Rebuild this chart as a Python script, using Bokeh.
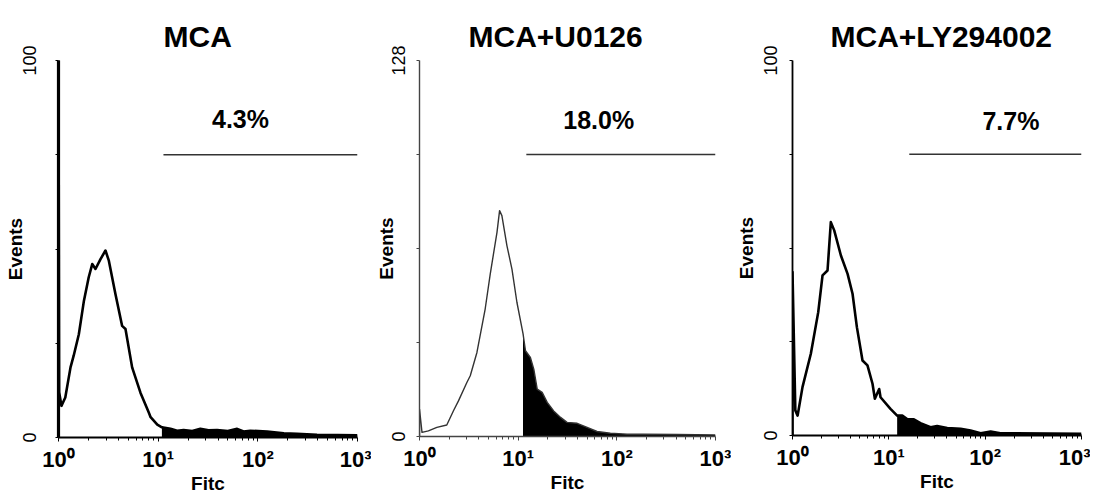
import numpy as np
from bokeh.plotting import figure
from bokeh.layouts import row
from bokeh.models import FixedTicker, Label
from bokeh.embed import file_html
from bokeh.resources import INLINE

# ---------------- data ----------------
titles = ["MCA", "MCA+U0126", "MCA+LY294002"]
percent_labels = ["4.3%", "18.0%", "7.7%"]
y_max = [100, 128, 100]
gate_start = [11.3, 12.1, 16.3]
gate_end = [1000, 1000, 1000]
gate_level = [75, 96, 75]
fill_start = [10.9, 11.2, 12.2]
x_tick_values = [1, 10, 100, 1000]
x_tick_labels = ["10⁰", "10¹", "10²", "10³"]

mca_fitc = [1.0, 1.0, 1.015, 1.07, 1.17, 1.32, 1.42, 1.60, 1.80, 2.01, 2.18, 2.35,
            2.64, 2.96, 3.2, 3.73, 4.35, 4.7, 5.48, 6.64, 8.05, 8.4, 9.8, 10.9,
            13.3, 15.5, 18.0, 22.0, 26.5, 32.0, 39.0, 50.0, 62.0, 72.0, 84.0,
            124.0, 182.0, 247.0, 392.0, 1000.0]
mca_events = [0, 100, 12.0, 8.4, 10.6, 18.6, 21.7, 27.4, 36.3, 42.5, 46.0, 44.7,
              47.3, 49.6, 46.9, 38.0, 29.6, 28.8, 18.6, 11.9, 6.6, 5.4, 3.4, 2.7,
              2.3, 1.8, 2.0, 1.7, 2.3, 1.9, 2.0, 1.7, 2.3, 1.6, 1.8,
              1.6, 1.1, 1.0, 0.7, 0.6]

u0126_fitc = [1.0, 1.0, 1.06, 1.23, 1.5, 1.89, 2.21, 2.49, 3.02, 3.27, 3.82, 4.63,
              5.21, 6.1, 6.48, 6.84, 7.69, 8.65, 9.71, 11.2, 11.86, 13.3, 14.4,
              15.6, 17.5, 19.7, 22.9, 26.9, 31.3, 39.6, 50.0, 63.0, 86.0, 127.0,
              186.0, 408.0, 1000.0]
u0126_events = [0, 9.3, 1.4, 1.9, 3.1, 3.9, 8.75, 12.2, 18.4, 20.7, 28.6, 43.4,
                55.3, 69.5, 76.9, 75.2, 65.0, 57.0, 45.7, 35.0, 29.2, 26.9, 22.9,
                16.1, 15.0, 11.6, 8.7, 6.5, 4.8, 4.5, 3.1, 1.7, 1.1, 0.8,
                0.8, 0.7, 0.55]

ly_fitc = [1.0, 1.0, 1.07, 1.13, 1.27, 1.55, 1.85, 2.05, 2.31, 2.5, 2.71, 3.18,
           3.73, 4.2, 4.66, 5.33, 6.0, 6.77, 7.16, 7.94, 8.2, 10.4, 12.2, 13.8,
           15.5, 18.2, 21.3, 27.1, 31.7, 40.4, 55.6, 70.6, 89.8, 114.0, 144.0,
           1000.0]
ly_events = [0, 43.6, 6.7, 5.3, 12.9, 21.8, 32.9, 42.7, 44.0, 56.9, 54.7, 48.0,
             43.1, 37.8, 28.9, 20.0, 18.7, 13.8, 9.8, 12.4, 10.2, 7.1, 5.3, 5.3,
             4.4, 4.3, 3.3, 2.2, 2.5, 2.0, 1.8, 1.3, 0.6, 1.07, 0.6,
             0.45]

series_fitc = [mca_fitc, u0126_fitc, ly_fitc]
series_events = [mca_events, u0126_events, ly_events]

# ---------------- styles / layout ----------------
FONT = "Liberation Sans"
H = 487
frame_w = [299, 296, 289]
frame_h = [377, 376, 375]
border_l = [58, 48, 61]
border_r = [14, 16, 9]
border_t = [60, 58, 60]
line_w = [2.6, 1.4, 2.6]
line_c = ["black", "#333333", "black"]
xaxis_w = [2.0, 1.4, 1.8]
yaxis_w = [3.2, 1.4, 1.8]
axis_c = ["black", "#444444", "black"]
title_offset = [105, 49, 38]
ylab_standoff = [20, 12, 13]
yaxlab_standoff = [-6, -8, 4]
# percentage label anchor positions (data coords)
pct_pos = [(67.0, 84.5), (65.5, 107.6), (185.0, 84.0)]

minor_x = [v * m for v in [1, 10, 100] for m in range(2, 10)]

figs = []
for i in range(3):
    p = figure(x_axis_type="log", x_range=(1, 1000), y_range=(0, y_max[i]),
               frame_width=frame_w[i], frame_height=frame_h[i],
               min_border_left=border_l[i], min_border_right=border_r[i],
               min_border_top=border_t[i],
               min_border_bottom=H - border_t[i] - frame_h[i],
               toolbar_location=None, output_backend="svg",
               background_fill_color="white", border_fill_color="white",
               title=titles[i])
    p.outline_line_color = None
    p.grid.visible = False
    p.title.align = "left"
    p.title.offset = title_offset[i]
    p.title.text_font = FONT
    p.title.text_font_style = "bold"
    p.title.text_font_size = "30px"
    p.title.text_color = "black"
    p.title.standoff = 16

    x = np.array(series_fitc[i], dtype=float)
    y = np.array(series_events[i], dtype=float)
    m = x >= fill_start[i]
    p.varea(x=x[m], y1=np.zeros(m.sum()), y2=y[m], fill_color="black")
    p.line(x, y, line_color=line_c[i], line_width=line_w[i], line_join="round")
    p.line([gate_start[i], gate_end[i]], [gate_level[i], gate_level[i]],
           line_color="#333333", line_width=1.4)

    # x axis
    xa = p.xaxis[0]
    xa.ticker = FixedTicker(ticks=x_tick_values, minor_ticks=minor_x)
    xa.major_label_overrides = {v: t for v, t in zip(x_tick_values, x_tick_labels)}
    xa.axis_label = "Fitc"
    xa.axis_label_text_font = FONT
    xa.axis_label_text_font_style = "bold"
    xa.axis_label_text_font_size = "19px"
    xa.axis_label_text_color = "black"
    xa.axis_label_standoff = -2
    xa.major_label_text_font = FONT
    xa.major_label_text_font_style = "bold"
    xa.major_label_text_font_size = "22px"
    xa.major_label_text_color = "black"
    xa.major_label_standoff = 5
    xa.major_tick_out = 4
    xa.major_tick_in = 0
    xa.minor_tick_out = 3
    xa.minor_tick_in = 0
    xa.axis_line_width = xaxis_w[i]
    xa.axis_line_color = axis_c[i]
    xa.major_tick_line_color = axis_c[i]
    xa.minor_tick_line_color = axis_c[i]

    # y axis
    ya = p.yaxis[0]
    ya.ticker = FixedTicker(ticks=[0, y_max[i]],
                            minor_ticks=[y_max[i] * k / 4 for k in (1, 2, 3)])
    ya.major_label_orientation = "parallel"
    ya.axis_label = "Events"
    ya.axis_label_text_font = FONT
    ya.axis_label_text_font_style = "bold"
    ya.axis_label_text_font_size = "19px"
    ya.axis_label_text_color = "black"
    ya.axis_label_standoff = yaxlab_standoff[i]
    ya.major_label_text_font = FONT
    ya.major_label_text_font_size = "18px"
    ya.major_label_text_color = "black"
    ya.major_label_standoff = ylab_standoff[i]
    ya.major_tick_out = 3
    ya.major_tick_in = 0
    ya.minor_tick_out = 3
    ya.minor_tick_in = 0
    ya.axis_line_width = yaxis_w[i]
    ya.axis_line_color = axis_c[i]
    ya.major_tick_line_color = axis_c[i]
    ya.minor_tick_line_color = axis_c[i]

    p.add_layout(Label(x=pct_pos[i][0], y=pct_pos[i][1], text=percent_labels[i],
                       text_font=FONT, text_font_style="bold",
                       text_font_size="25px", text_align="center",
                       text_baseline="middle", text_color="black"))
    figs.append(p)

layout = row(*figs, spacing=0)
open("out.html", "w").write(file_html(layout, INLINE))
